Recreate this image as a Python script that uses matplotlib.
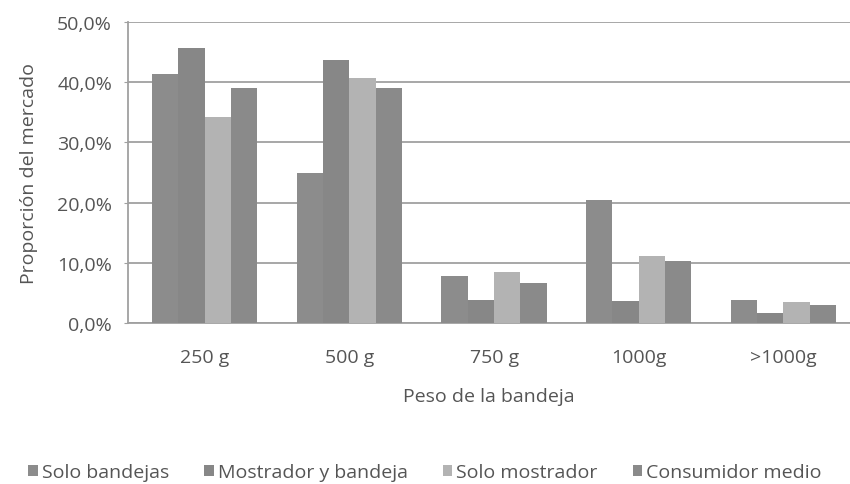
import numpy as np
import matplotlib.pyplot as plt
from matplotlib.ticker import FuncFormatter

categorias = ["250 g", "500 g", "750 g", "1000g", ">1000g"]
series = ["Solo bandejas", "Mostrador y bandeja", "Solo mostrador", "Consumidor medio"]
solo_bandejas = [41.4, 24.9, 7.8, 20.4, 3.8]
mostrador_bandeja = [45.7, 43.7, 3.8, 3.7, 1.7]
solo_mostrador = [34.2, 40.7, 8.5, 11.2, 3.5]
consumidor_medio = [39.0, 39.0, 6.6, 10.3, 3.0]

colores = ["#8c8c8c", "#878787", "#b3b3b3", "#8a8a8a"]
texto = "#555555"
gris_eje = "#a0a0a0"

plt.rcParams["font.family"] = ["Open Sans", "DejaVu Sans"]

fig = plt.figure(figsize=(8.5, 4.85), dpi=100)
ax = fig.add_axes([128 / 850, 1 - 324 / 485, 722 / 850, 301 / 485])

x = np.arange(len(categorias))
ancho = 0.182
valores = [solo_bandejas, mostrador_bandeja, solo_mostrador, consumidor_medio]
for i, (nombre, v) in enumerate(zip(series, valores)):
    ax.bar(x + (i - 1.5) * ancho, v, ancho, color=colores[i], label=nombre, zorder=3)

ax.set_xlim(-0.53, 4.46)
ax.set_ylim(0, 50)
ax.set_yticks(np.arange(0, 51, 10))
ax.yaxis.set_major_formatter(FuncFormatter(lambda v, _: f"{v:.1f}%".replace(".", ",")))
ax.set_xticks(x)
ax.set_xticklabels(categorias)
ax.grid(axis="y", color=gris_eje, linewidth=1.3, zorder=0)

for lado in ["top", "right"]:
    ax.spines[lado].set_visible(False)
for lado in ["left", "bottom"]:
    ax.spines[lado].set_color(gris_eje)
    ax.spines[lado].set_linewidth(1.3)
ax.tick_params(axis="y", length=3, color=gris_eje, labelsize=14, labelcolor=texto, pad=8.5)
ax.tick_params(axis="x", length=0, labelsize=14, labelcolor=texto, pad=18)

ax.set_ylabel("Proporción del mercado", fontsize=14, color=texto, labelpad=14)
ax.set_xlabel("Peso de la bandeja", fontsize=14, color=texto, labelpad=15)

fig.legend(loc="center", bbox_to_anchor=(0.5, 1 - 473 / 485), ncol=4, frameon=False,
           fontsize=14, labelcolor=texto, handlelength=0.5, handleheight=0.5,
           handletextpad=0.2, columnspacing=1.8)

fig.savefig("out.png", dpi=100)
